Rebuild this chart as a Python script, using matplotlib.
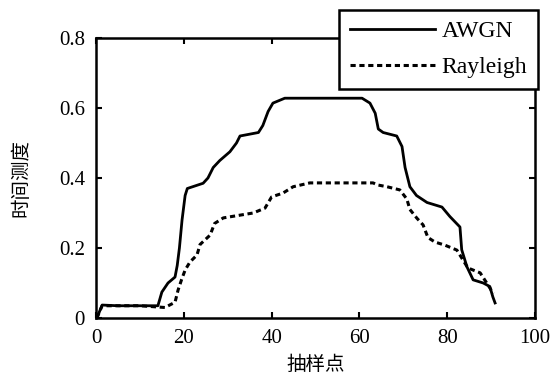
import matplotlib
matplotlib.use('Agg')
import matplotlib.pyplot as plt

# sample index / time measure
awgn_x = [0.2, 1.4, 5, 10, 14.1, 15, 16.4, 18, 18.5, 19, 19.6, 20.3, 20.8, 24.4, 25.5,
          26.7, 28.2, 30.5, 32, 32.8, 37, 38, 39.2, 40.3, 43, 60.6, 62.4, 63.6, 64.3,
          65.4, 68.5, 69.7, 70.4, 71.5, 73, 75.4, 78.8, 80.6, 82.9, 83.3, 84.5, 85.9,
          88.2, 89.7, 90.4, 90.9]
awgn_y = [0, 0.037, 0.035, 0.035, 0.035, 0.074, 0.10, 0.117, 0.15, 0.20, 0.28, 0.35,
          0.37, 0.385, 0.40, 0.43, 0.45, 0.475, 0.50, 0.52, 0.53, 0.55, 0.59, 0.614,
          0.628, 0.628, 0.614, 0.585, 0.54, 0.53, 0.52, 0.49, 0.43, 0.375, 0.35, 0.33,
          0.317, 0.29, 0.26, 0.195, 0.146, 0.109, 0.10, 0.09, 0.06, 0.043]

ray_x = [0.2, 1.4, 5, 10, 15.7, 18, 18.7, 19.5, 20.3, 21.4, 23, 23.7, 26, 27, 29, 35.8,
         38.5, 40, 42.6, 44.9, 48.7, 63.1, 64.2, 66.3, 69.2, 70.8, 71.5, 73.1, 74.5,
         75.6, 77.2, 79.5, 82.2, 84.7, 87.5, 89, 90.5]
ray_y = [0, 0.035, 0.035, 0.035, 0.03, 0.045, 0.08, 0.11, 0.137, 0.16, 0.18, 0.21,
         0.237, 0.27, 0.286, 0.30, 0.314, 0.346, 0.357, 0.375, 0.386, 0.386, 0.38,
         0.375, 0.366, 0.34, 0.31, 0.285, 0.266, 0.23, 0.217, 0.208, 0.194, 0.143,
         0.129, 0.10, 0.07]

xticks = [0, 20, 40, 60, 80, 100]
yticks = [0, 0.2, 0.4, 0.6, 0.8]
ytick_labels = ['0', '0.2', '0.4', '0.6', '0.8']

serif = ['Liberation Serif', 'DejaVu Serif']
cjk = ['Noto Sans CJK SC', 'DejaVu Sans']

fig = plt.figure(figsize=(5.53, 3.87), dpi=100)
ax = fig.add_axes([0.1736, 0.1783, 0.7939, 0.7235])

ax.plot(awgn_x, awgn_y, color='black', lw=2.0, label='AWGN')
ax.plot(ray_x, ray_y, color='black', lw=2.2, linestyle=(0, (1.7, 1.2)), label='Rayleigh')

ax.set_xlim(0, 100)
ax.set_ylim(0, 0.8)
ax.set_xticks(xticks)
ax.set_xticklabels([str(t) for t in xticks], family=serif, fontsize=15)
ax.set_yticks(yticks)
ax.set_yticklabels(ytick_labels, family=serif, fontsize=15)
ax.tick_params(direction='in', length=4, width=1.5, top=True, right=True, pad=8)
for s in ax.spines.values():
    s.set_linewidth(1.8)

ax.set_xlabel('抽样点', family=cjk, fontsize=14, labelpad=4)
ax.set_ylabel('时间测度', family=cjk, fontsize=14, labelpad=20)

leg = ax.legend(loc='upper right', bbox_to_anchor=(0.973, 0.974),
                bbox_transform=fig.transFigure, prop={'family': serif, 'size': 17},
                handlelength=3.6, handletextpad=0.3, borderpad=0.45,
                labelspacing=0.6, fancybox=False, framealpha=1, borderaxespad=0)
leg.get_frame().set_edgecolor('black')
leg.get_frame().set_linewidth(1.8)

fig.savefig('out.png', dpi=100)
